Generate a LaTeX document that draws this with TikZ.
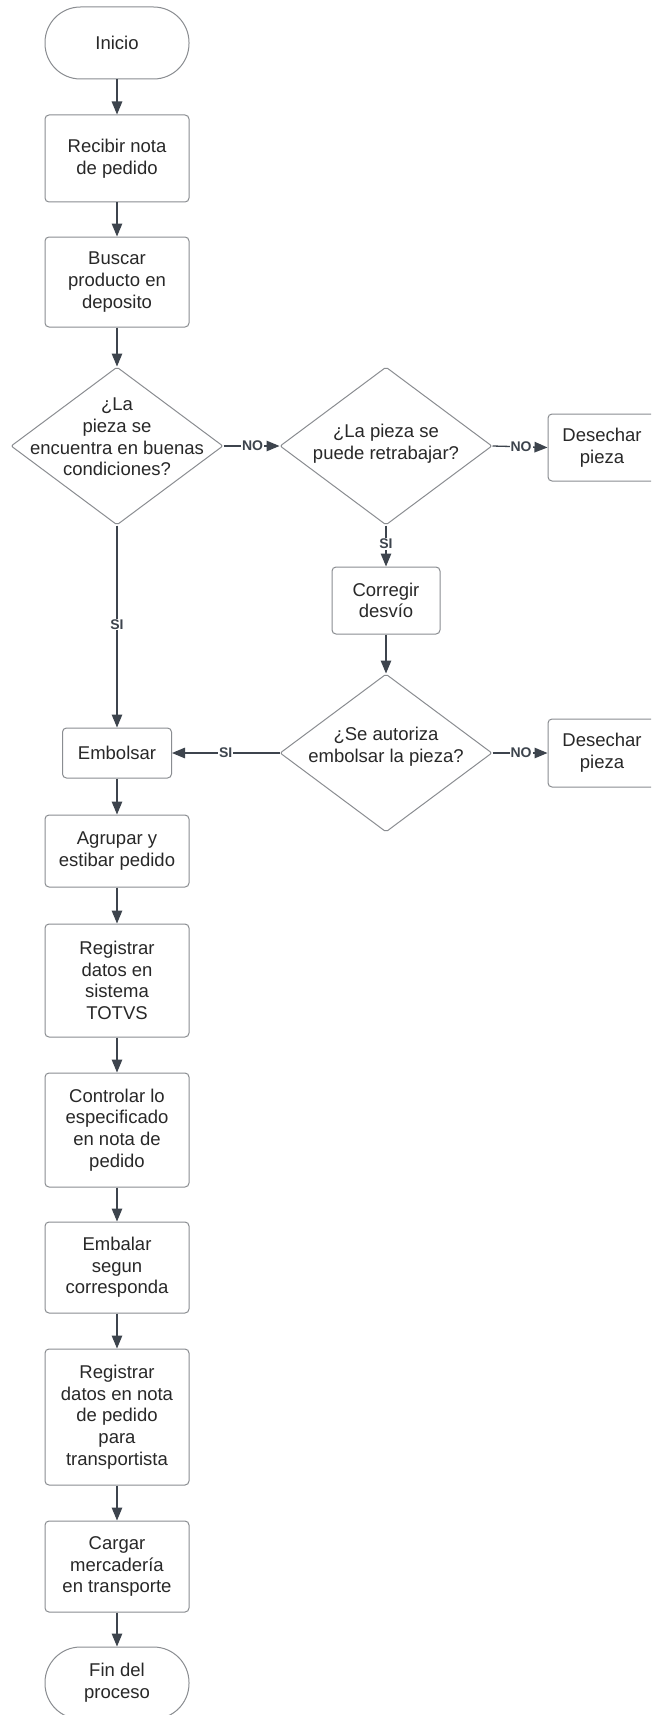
\documentclass[tikz,border=0pt]{standalone}
\usepackage{fontspec}
\setmainfont{Liberation Sans}
\usetikzlibrary{shapes.geometric,arrows.meta}
\definecolor{boxline}{HTML}{8A8D91}
\definecolor{arrowline}{HTML}{3D444D}
\definecolor{txt}{HTML}{282828}
\begin{document}
\begin{tikzpicture}[x=1pt,y=-1pt,
  every node/.style={font=\fontsize{18.5}{21.7}\selectfont, text=txt},
  procbox/.style={draw=boxline, line width=1pt, rounded corners=4pt, align=center, inner sep=0pt},
  termbox/.style={draw=boxline, line width=1pt, rounded corners=35.5pt, align=center, inner sep=0pt,
    minimum width=144pt, minimum height=72pt},
  decbox/.style={draw=boxline, line width=1pt, diamond, rounded corners=2pt, inner sep=0pt,
    minimum width=212pt, minimum height=158pt},
  dectext/.style={align=center, inner sep=0pt},
  flow/.style={draw=arrowline, line width=1.3pt, -{Triangle[length=13pt,width=10.5pt]}},
  lbl/.style={fill=white, inner sep=1pt, font=\fontsize{14}{16}\selectfont\bfseries, text=arrowline}
]
\useasboundingbox (0,0) rectangle (651,1715);
\clip (0,0) rectangle (651,1715);
\fill[white] (0,0) rectangle (651,1715);

\node[termbox] (ini) at (117,43) {Inicio};
\node[procbox, minimum width=144pt, minimum height=87pt] (rec) at (117,158.5) {Recibir nota\\de pedido};
\node[procbox, minimum width=144pt, minimum height=90pt] (bus) at (117,282) {Buscar\\producto en\\deposito};
\node[decbox] (d1) at (117,446) {};
\node[dectext] (d1t) at (117,437) {¿La\\pieza se\\encuentra en buenas\\condiciones?};
\node[decbox] (d2) at (386,446) {};
\node[dectext] (d2t) at (386,444) {¿La pieza se\\puede retrabajar?};
\node[procbox, minimum width=108pt, minimum height=67pt] (des1) at (602,447.5) {Desechar\\pieza};
\node[procbox, minimum width=108pt, minimum height=67pt] (cor) at (386,600.5) {Corregir\\desvío};
\node[decbox] (d3) at (386,753) {};
\node[dectext] (d3t) at (386,747) {¿Se autoriza\\embolsar la pieza?};
\node[procbox, minimum width=108pt, minimum height=68pt] (des2) at (602,753) {Desechar\\pieza};
\node[procbox, minimum width=109pt, minimum height=50pt] (emb) at (117,753) {Embolsar};
\node[procbox, minimum width=144pt, minimum height=72pt] (agr) at (117,851) {Agrupar y\\estibar pedido};
\node[procbox, minimum width=144pt, minimum height=113pt] (reg1) at (117,980.5) {Registrar\\datos en\\sistema\\TOTVS};
\node[procbox, minimum width=144pt, minimum height=114pt] (con) at (117,1130) {Controlar lo\\especificado\\en nota de\\pedido};
\node[procbox, minimum width=144pt, minimum height=91pt] (emba) at (117,1267.5) {Embalar\\segun\\corresponda};
\node[procbox, minimum width=144pt, minimum height=136pt] (reg2) at (117,1417) {Registrar\\datos en nota\\de pedido\\para\\transportista};
\node[procbox, minimum width=144pt, minimum height=91pt] (car) at (117,1566.5) {Cargar\\mercadería\\en transporte};
\node[termbox] (fin) at (117,1683) {Fin del\\proceso};

\draw[flow] (ini) -- (rec);
\draw[flow] (rec) -- (bus);
\draw[flow] (bus) -- (d1.north);
\draw[flow] (d1.east) -- node[lbl, pos=0.52] {NO} (d2.west);
\draw[flow] (d2.east) -- node[lbl, pos=0.52] {NO} (des1.west);
\draw[flow] (d2.south) -- node[lbl, pos=0.45] {SI} (cor.north);
\draw[flow] (d1.south) -- node[lbl, pos=0.49] {SI} (emb.north);
\draw[flow] (cor) -- (d3.north);
\draw[flow] (d3.west) -- node[lbl, pos=0.5] {SI} (emb.east);
\draw[flow] (d3.east) -- node[lbl, pos=0.52] {NO} (des2.west);
\draw[flow] (emb) -- (agr);
\draw[flow] (agr) -- (reg1);
\draw[flow] (reg1) -- (con);
\draw[flow] (con) -- (emba);
\draw[flow] (emba) -- (reg2);
\draw[flow] (reg2) -- (car);
\draw[flow] (car) -- (fin);
\end{tikzpicture}
\end{document}
